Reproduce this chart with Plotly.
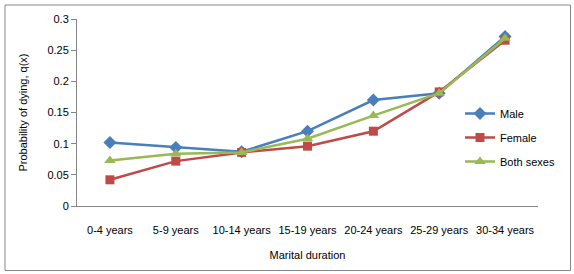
import plotly.graph_objects as go

categories = ["0-4 years", "5-9 years", "10-14 years", "15-19 years",
              "20-24 years", "25-29 years", "30-34 years"]
male = [0.102, 0.094, 0.087, 0.120, 0.170, 0.181, 0.272]
female = [0.042, 0.072, 0.086, 0.096, 0.120, 0.183, 0.266]
both = [0.073, 0.084, 0.086, 0.108, 0.145, 0.181, 0.269]
y_ticks = [0, 0.05, 0.1, 0.15, 0.2, 0.25, 0.3]
y_tick_text = ["0", "0.05", "0.1", "0.15", "0.2", "0.25", "0.3"]

W, H = 574, 274
L, R, T, B = 77, 36, 19, 68
pw, ph = W - L - R, H - T - B

def px(x):
    return (x - L) / pw

def py(y):
    return (H - B - y) / ph

FONT = "Liberation Sans"

fig = go.Figure()
series = [
    ("Male", male, "#4A7EBB", "diamond", 10),
    ("Female", female, "#BE4B48", "square", 9),
    ("Both sexes", both, "#98B954", "triangle-up", 10),
]
for i, (name, vals, col, sym, sz) in enumerate(series):
    fig.add_trace(go.Scatter(
        x=categories, y=vals, name=name, mode="lines+markers",
        line=dict(color=col, width=2.5),
        marker=dict(symbol=sym, size=sz, color=col),
        legendgroup=f"g{i}",
    ))

fig.update_layout(
    width=W, height=H,
    margin=dict(l=L, r=R, t=T, b=B, pad=0, autoexpand=False),
    paper_bgcolor="white", plot_bgcolor="white",
    font=dict(family=FONT, size=11, color="black"),
    showlegend=True,
    legend=dict(x=px(460), y=py(99), xanchor="left", yanchor="top",
                font=dict(size=11), tracegroupgap=5,
                bgcolor="rgba(0,0,0,0)", itemwidth=30),
    xaxis=dict(
        type="category", range=[-0.5, 6.5], automargin=False,
        showline=True, linecolor="#868686", linewidth=1,
        showgrid=False, ticks="", tickfont=dict(size=11),
        ticklabelstandoff=14,
        title=dict(text="Marital duration", font=dict(size=11), standoff=16),
        fixedrange=True,
    ),
    yaxis=dict(
        range=[0, 0.3], tickvals=y_ticks, ticktext=y_tick_text, automargin=False,
        showline=True, linecolor="#868686", linewidth=1,
        showgrid=False, ticks="outside", ticklen=5, tickcolor="#868686",
        tickfont=dict(size=11),
        title=dict(text="Probability of dying, q(x)", font=dict(size=11), standoff=17),
        zeroline=False, fixedrange=True,
    ),
    shapes=[dict(type="rect", xref="paper", yref="paper",
                 x0=px(5), x1=px(570.5), y0=py(270.5), y1=py(5),
                 line=dict(color="#868686", width=1), fillcolor="rgba(0,0,0,0)",
                 layer="below")],
)

fig.write_html("out.html", config={"displayModeBar": False},
               post_script="document.body.style.margin='0';document.body.style.overflow='hidden';")
